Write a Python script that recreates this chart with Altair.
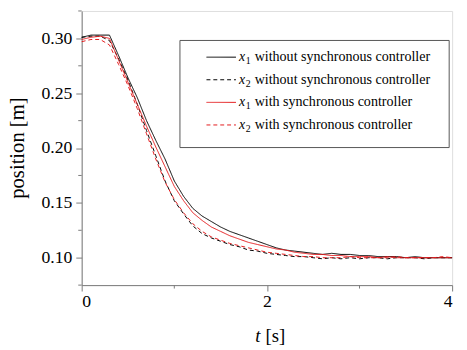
import altair as alt
import pandas as pd

# time axis (s)
t = [round(0.1 * i, 1) for i in range(41)]

x1_without = [0.301, 0.303, 0.303, 0.303, 0.284, 0.264, 0.246, 0.225, 0.207, 0.190,
              0.170, 0.156, 0.145, 0.138, 0.133, 0.128, 0.124, 0.121, 0.118, 0.115,
              0.112, 0.109, 0.107, 0.106, 0.105, 0.104, 0.103, 0.104, 0.103, 0.103,
              0.102, 0.102, 0.101, 0.101, 0.101, 0.100, 0.101, 0.100, 0.100, 0.100, 0.100]
x2_without = [0.301, 0.302, 0.302, 0.298, 0.281, 0.262, 0.240, 0.216, 0.193, 0.170,
              0.152, 0.140, 0.129, 0.122, 0.118, 0.115, 0.112, 0.110, 0.107, 0.106,
              0.104, 0.103, 0.102, 0.101, 0.101, 0.100, 0.099, 0.100, 0.099, 0.100,
              0.099, 0.100, 0.100, 0.099, 0.100, 0.100, 0.100, 0.099, 0.100, 0.100, 0.100]
x1_with = [0.299, 0.301, 0.302, 0.300, 0.280, 0.260, 0.240, 0.220, 0.201, 0.183,
           0.165, 0.152, 0.141, 0.134, 0.128, 0.124, 0.120, 0.117, 0.114, 0.112,
           0.110, 0.108, 0.107, 0.105, 0.104, 0.103, 0.103, 0.102, 0.102, 0.101,
           0.101, 0.101, 0.100, 0.101, 0.100, 0.100, 0.100, 0.100, 0.100, 0.100, 0.100]
x2_with = [0.297, 0.299, 0.299, 0.294, 0.276, 0.257, 0.236, 0.213, 0.190, 0.169,
           0.153, 0.141, 0.131, 0.124, 0.119, 0.116, 0.113, 0.111, 0.109, 0.107,
           0.105, 0.104, 0.103, 0.102, 0.101, 0.101, 0.100, 0.100, 0.100, 0.101,
           0.100, 0.100, 0.100, 0.100, 0.101, 0.100, 0.100, 0.100, 0.100, 0.101, 0.100]

series_names = ["x1 without synchronous controller", "x2 without synchronous controller",
                "x1 with synchronous controller", "x2 with synchronous controller"]
series_values = [x1_without, x2_without, x1_with, x2_with]
series_colors = ["#000000", "#000000", "#e3191c", "#e3191c"]
series_dash = [[1, 0], [4, 3], [1, 0], [4, 3]]
legend_sub = ["1", "2", "1", "2"]
legend_rest = ["without synchronous controller", "without synchronous controller",
               "with synchronous controller", "with synchronous controller"]

y_major = [0.10, 0.15, 0.20, 0.25, 0.30]
y_minor = [0.075, 0.125, 0.175, 0.225, 0.275, 0.325]
x_major = [0, 2, 4]
x_minor = [1, 3]

W, H = 377, 279
SERIF = "'Liberation Serif', 'Times New Roman', serif"
AXC = "#7a7a7a"

xs = alt.Scale(domain=[0, 4], nice=False, zero=False)
ys = alt.Scale(domain=[0.075, 0.325], nice=False, zero=False)

x_axis = alt.Axis(values=x_major, format="d", title=None, grid=False, tickSize=6,
                  labelPadding=2, domainColor=AXC, tickColor=AXC, labelFont=SERIF,
                  labelFontSize=18, labelColor="black")
y_axis = alt.Axis(values=y_major, format=".2f", title=None, grid=False, tickSize=6,
                  labelPadding=4, domainColor=AXC, tickColor=AXC, labelFont=SERIF,
                  labelFontSize=18, labelColor="black")

layers = []
for i, (name, vals) in enumerate(zip(series_names, series_values)):
    df = pd.DataFrame({"t": t, "v": vals, "series": name})
    layers.append(
        alt.Chart(df).mark_line(color=series_colors[i], strokeWidth=1,
                                strokeDash=series_dash[i]).encode(
            x=alt.X("t:Q", scale=xs, axis=x_axis),
            y=alt.Y("v:Q", scale=ys, axis=y_axis),
        )
    )

# minor ticks
ymin_df = pd.DataFrame({"v": y_minor})
layers.append(alt.Chart(ymin_df).mark_rule(color=AXC, strokeWidth=1).encode(
    y=alt.Y("v:Q", scale=ys, axis=y_axis), x=alt.value(-3.5), x2=alt.value(0)))
xmin_df = pd.DataFrame({"t": x_minor})
layers.append(alt.Chart(xmin_df).mark_rule(color=AXC, strokeWidth=1).encode(
    x=alt.X("t:Q", scale=xs, axis=x_axis), y=alt.value(H), y2=alt.value(H + 3.5)))

one = pd.DataFrame({"a": [0]})

# axis titles
layers.append(alt.Chart(one).mark_text(text="position [m]", font=SERIF, fontSize=21,
                                       angle=270, align="center", baseline="middle",
                                       color="black").encode(
    x=alt.value(-65), y=alt.value(H / 2)))
layers.append(alt.Chart(one).mark_text(text="t", font=SERIF, fontSize=19, fontStyle="italic",
                                       align="right", baseline="middle", color="black").encode(
    x=alt.value(182), y=alt.value(331)))
layers.append(alt.Chart(one).mark_text(text="[s]", font=SERIF, fontSize=19,
                                       align="left", baseline="middle", color="black").encode(
    x=alt.value(187), y=alt.value(331)))

# legend box
layers.append(alt.Chart(one).mark_rect(fill="white", stroke="#555555", strokeWidth=1).encode(
    x=alt.value(100), x2=alt.value(374), y=alt.value(30), y2=alt.value(139)))
row_y = [47, 70, 93, 116]
for i in range(4):
    ry = row_y[i]
    layers.append(alt.Chart(one).mark_rule(color=series_colors[i], strokeWidth=1,
                                           strokeDash=series_dash[i]).encode(
        x=alt.value(127), x2=alt.value(157), y=alt.value(ry)))
    layers.append(alt.Chart(one).mark_text(text="x", font=SERIF, fontSize=14, fontStyle="italic",
                                           align="left", baseline="middle", color="black").encode(
        x=alt.value(160), y=alt.value(ry)))
    layers.append(alt.Chart(one).mark_text(text=legend_sub[i], font=SERIF, fontSize=10,
                                           align="left", baseline="middle", color="black").encode(
        x=alt.value(167), y=alt.value(ry + 4)))
    layers.append(alt.Chart(one).mark_text(text=legend_rest[i], font=SERIF, fontSize=14.3,
                                           align="left", baseline="middle", color="black").encode(
        x=alt.value(176), y=alt.value(ry)))

chart = alt.layer(*layers).properties(
    width=W, height=H,
    autosize=alt.AutoSizeParams(type="none"),
    padding={"left": 75, "top": 0, "right": 7, "bottom": 63},
).configure_view(stroke=None).configure(background="white")

chart.save("out.html", embed_options={"renderer": "svg", "actions": False})
